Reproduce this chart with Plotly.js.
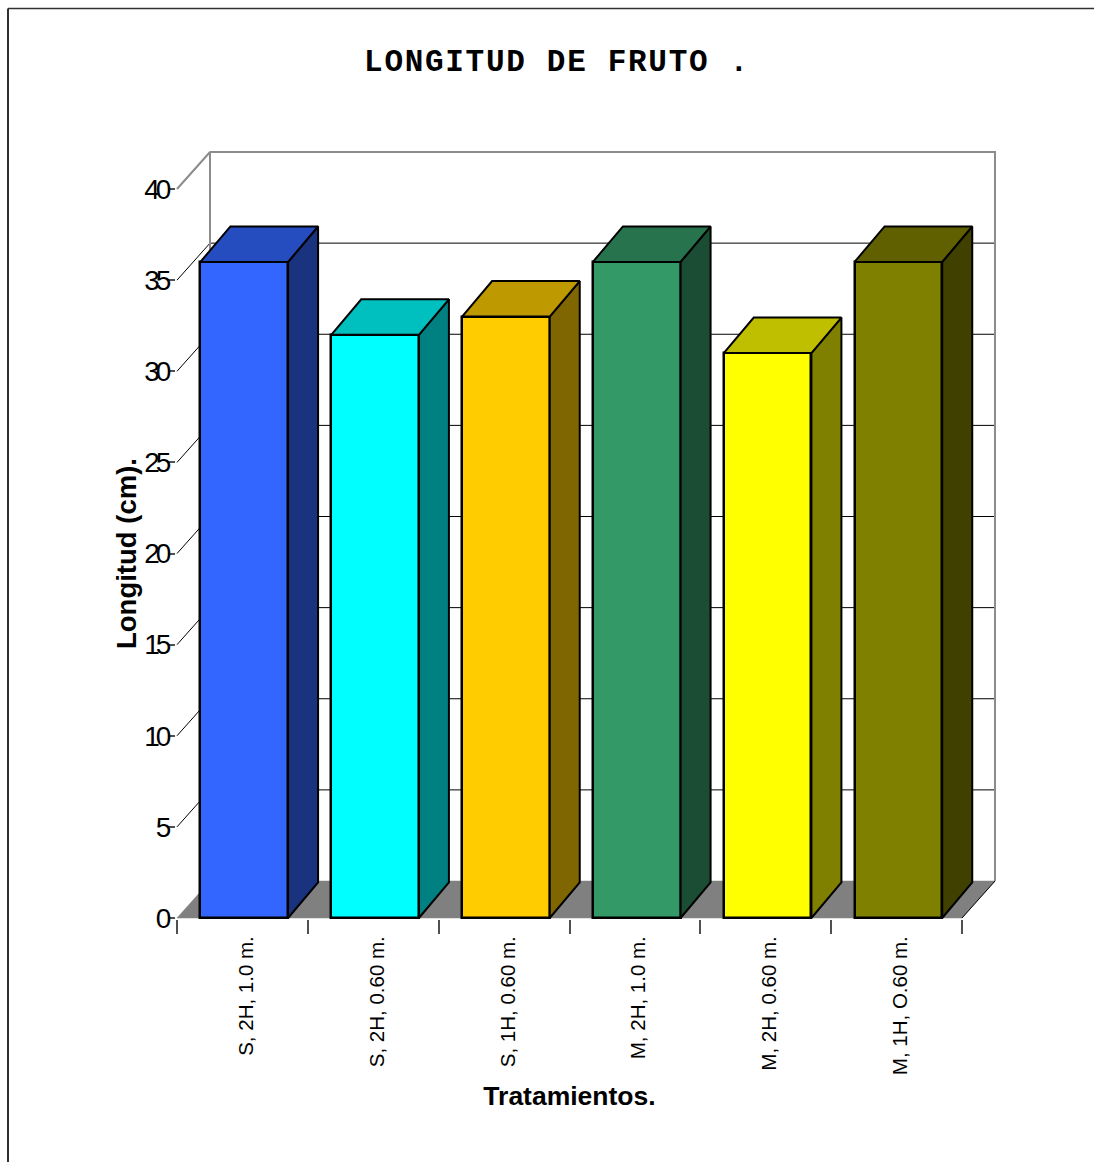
<!DOCTYPE html>
<html>
<head>
<meta charset="utf-8">
<script src="https://cdn.plot.ly/plotly-3.0.1.min.js"></script>
<style>
  html, body { margin: 0; padding: 0; background: #fff; overflow: hidden; }
  .ytick text { letter-spacing: -4px; }
  .gtitle { letter-spacing: 1.7px; }
</style>
</head>
<body>
<div id="chart" style="width:1094px;height:1162px"></div>
<script>
// Fruit length per treatment, drawn as a box-style column chart
const treatments = ["S, 2H, 1.0 m.", "S, 2H, 0.60 m.", "S, 1H, 0.60 m.", "M, 2H, 1.0 m.", "M, 2H, 0.60 m.", "M, 1H, O.60 m."];
const lengths = [36, 32, 33, 36, 31, 36];
const frontColors = ["#3366ff", "#00ffff", "#ffcc00", "#339966", "#ffff00", "#808000"];
const topColors = ["#264dbf", "#00bfbf", "#bf9900", "#26734d", "#bfbf00", "#606000"];
const sideColors = ["#19337f", "#008080", "#7f6600", "#1a4d33", "#808000", "#404000"];
const yTicks = [0, 5, 10, 15, 20, 25, 30, 35, 40];

const BAR_WIDTH = 0.67, YMAX = 40, N = treatments.length;
const centers = treatments.map((_, i) => i + 0.514);

// Page and front-plane geometry in pixels
const W = 1094, H = 1162;
const FRONT = { left: 177, right: 962, top: 189, bottom: 918 };
const BOX_DEPTH_PX = { x: 33, y: 37 };
const BAR_DEPTH_PX = { x: 30, y: 35.5 };
const PAD = 3;

const pxPerX = (FRONT.right - FRONT.left) / N;
const pxPerY = (FRONT.bottom - FRONT.top) / YMAX;
const DX = BOX_DEPTH_PX.x / pxPerX, DY = BOX_DEPTH_PX.y / pxPerY;
const BDX = BAR_DEPTH_PX.x / pxPerX, BDY = BAR_DEPTH_PX.y / pxPerY;

// The drawing area holds the box depth as well as the front plane
const area = {
  left: FRONT.left - PAD,
  right: FRONT.right + BOX_DEPTH_PX.x + PAD,
  top: FRONT.top - BOX_DEPTH_PX.y - PAD,
  bottom: FRONT.bottom + PAD
};
const areaW = area.right - area.left, areaH = area.bottom - area.top;

function poly(xs, ys, fill, lineColor, lineWidth, z) {
  return {
    type: "scatter", mode: "lines", x: xs, y: ys, xaxis: "x2", yaxis: "y2",
    fill: fill ? "toself" : "none", fillcolor: fill || undefined,
    line: { color: lineColor, width: lineWidth },
    hoverinfo: "skip", showlegend: false, zorder: z
  };
}

const traces = [];

// Keeps the tick-bearing front axes in use
traces.push({
  type: "scatter", mode: "markers", x: [0], y: [0], marker: { opacity: 0 },
  hoverinfo: "skip", showlegend: false
});

// Floor
traces.push(poly([0, N, N + DX, DX, 0], [0, 0, DY, DY, 0], "#808080", "#808080", 0.5, -2));
traces.push(poly([N, N + DX], [0, DY], null, "#000000", 1, -2));

// Grid lines on the side wall and back wall
yTicks.filter(v => v > 0 && v < YMAX).forEach(v => {
  traces.push(poly([0, DX, N + DX], [v, v + DY, v + DY], null, "#000000", 1, -2));
});

// Box frame
traces.push(poly([0, DX, DX], [YMAX, YMAX + DY, DY], null, "#8c8c8c", 2, -2));
traces.push(poly([DX, N + DX, N + DX], [YMAX + DY, YMAX + DY, DY], null, "#8c8c8c", 2, -2));

// Front faces
traces.push({
  type: "bar", x: centers, y: lengths, width: BAR_WIDTH, xaxis: "x2", yaxis: "y2",
  marker: { color: frontColors, line: { color: "#000000", width: 2.5 } },
  showlegend: false, zorder: 0,
  text: treatments, hoverinfo: "text+y", textposition: "none"
});

// Top and side faces
lengths.forEach((v, i) => {
  const x0 = centers[i] - BAR_WIDTH / 2, x1 = centers[i] + BAR_WIDTH / 2;
  traces.push(poly([x1, x1 + BDX, x1 + BDX, x1, x1], [0, BDY, v + BDY, v, 0], sideColors[i], "#000000", 2, 1));
  traces.push(poly([x0, x0 + BDX, x1 + BDX, x1, x0], [v, v + BDY, v + BDY, v, v], topColors[i], "#000000", 2, 1));
});

const layout = {
  width: W, height: H,
  margin: { l: area.left, r: W - area.right, t: area.top, b: H - area.bottom, pad: 0 },
  paper_bgcolor: "#ffffff", plot_bgcolor: "rgba(0,0,0,0)",
  showlegend: false, bargap: 0,
  font: { family: "Liberation Sans, Arial, sans-serif", color: "#000000" },
  title: {
    text: "<b>LONGITUD DE FRUTO .</b>",
    font: { family: "Liberation Mono, monospace", size: 31, color: "#000000" },
    x: 557 / W, xref: "container", xanchor: "center",
    y: 1 - 60 / H, yref: "container", yanchor: "middle"
  },
  xaxis: {
    domain: [(FRONT.left - area.left) / areaW, (FRONT.right - area.left) / areaW],
    anchor: "y",
    range: [0, N], tickmode: "array", tickvals: treatments.map((_, i) => i + 0.53), ticktext: treatments,
    tickangle: -90, ticks: "", ticklabelstandoff: 8, tickfont: { size: 20.5, color: "#000000" },
    showgrid: false, zeroline: false, showline: true, linecolor: "#808080", linewidth: 2,
    minor: {
      tickmode: "array", tickvals: treatments.map((_, i) => i).concat([N]),
      ticks: "outside", ticklen: 14, tickwidth: 1.5, tickcolor: "#505050", showgrid: false
    },
    title: { text: "<b>Tratamientos.</b>", font: { size: 26.5, color: "#000000" }, standoff: 12 },
    fixedrange: true
  },
  yaxis: {
    domain: [(area.bottom - FRONT.bottom) / areaH, (area.bottom - FRONT.top) / areaH],
    anchor: "x",
    range: [0, YMAX], tickmode: "array", tickvals: yTicks, ticktext: yTicks.map(String),
    ticks: "outside", ticklen: 7, tickwidth: 1.5, tickcolor: "#505050", ticklabelstandoff: -5,
    tickfont: { size: 28, color: "#000000" },
    showgrid: false, zeroline: false, showline: true, linecolor: "#404040", linewidth: 2,
    title: { text: "<b>Longitud (cm).</b>", font: { size: 27.5, color: "#000000" }, standoff: 0 },
    fixedrange: true
  },
  // Same scales as the front axes, stretched over the box depth
  xaxis2: {
    domain: [0, 1], anchor: "y2", visible: false, fixedrange: true,
    range: [-PAD / pxPerX, N + DX + PAD / pxPerX]
  },
  yaxis2: {
    domain: [0, 1], anchor: "x2", visible: false, fixedrange: true,
    range: [-PAD / pxPerY, YMAX + DY + PAD / pxPerY]
  },
  shapes: [
    // Outer chart frame, left and top edges
    { type: "line", xref: "paper", yref: "paper", x0: (8 - area.left) / areaW, x1: (8 - area.left) / areaW,
      y0: (area.bottom - H) / areaH, y1: 1 + (area.top - 8.5) / areaH, line: { color: "#303030", width: 2 } },
    { type: "line", xref: "paper", yref: "paper", x0: (8 - area.left) / areaW, x1: (W - area.left) / areaW,
      y0: 1 + (area.top - 8.5) / areaH, y1: 1 + (area.top - 8.5) / areaH, line: { color: "#303030", width: 1.5 } }
  ]
};

Plotly.newPlot("chart", traces, layout, { displayModeBar: false, responsive: false });
</script>
</body>
</html>
